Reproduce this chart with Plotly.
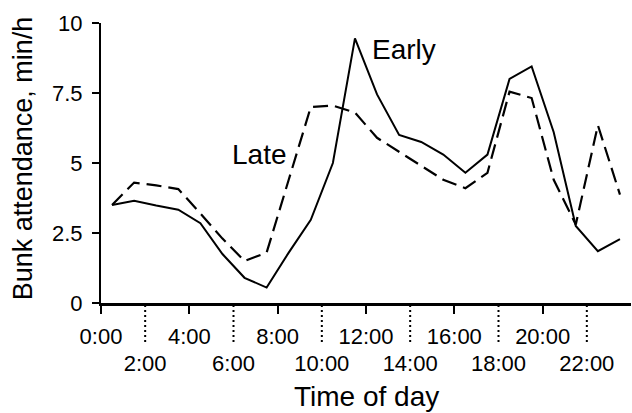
import plotly.graph_objects as go

# Data (time of day in hours, attendance in min/h)
hours = [0.5, 1.5, 2.5, 3.5, 4.5, 5.5, 6.5, 7.5, 8.5, 9.5, 10.5, 11.5,
         12.5, 13.5, 14.5, 15.5, 16.5, 17.5, 18.5, 19.5, 20.5, 21.5, 22.5, 23.5]
early = [3.5, 3.65, 3.48, 3.33, 2.85, 1.75, 0.9, 0.55, 1.8, 2.97, 5.0, 9.45,
         7.45, 6.0, 5.75, 5.3, 4.65, 5.3, 8.0, 8.45, 6.1, 2.75, 1.85, 2.28]
late = [3.5, 4.3, 4.2, 4.07, 3.2, 2.3, 1.5, 1.8, 4.4, 7.0, 7.05, 6.8,
        5.9, 5.4, 4.88, 4.4, 4.1, 4.65, 7.55, 7.32, 4.4, 2.8, 6.35, 3.87]

major_hours = [0, 4, 8, 12, 16, 20]
major_labels = ["0:00", "4:00", "8:00", "12:00", "16:00", "20:00"]
minor_hours = [2, 6, 10, 14, 18, 22]
minor_labels = ["2:00", "6:00", "10:00", "14:00", "18:00", "22:00"]

y_ticks = [0, 2.5, 5, 7.5, 10]
y_labels = ["0", "2.5", "5", "7.5", "10"]

FONT = "Liberation Sans, Arial, sans-serif"

fig = go.Figure()
fig.add_trace(go.Scatter(x=hours, y=early, mode="lines", name="Early",
                         line=dict(color="black", width=2), xaxis="x", yaxis="y"))
fig.add_trace(go.Scatter(x=hours, y=late, mode="lines", name="Late",
                         line=dict(color="black", width=2.2, dash="15px,7px"),
                         xaxis="x", yaxis="y"))
# invisible carrier so the second label row axis is drawn
fig.add_trace(go.Scatter(x=hours, y=early, mode="lines", line=dict(width=0),
                         opacity=0, hoverinfo="skip", showlegend=False,
                         xaxis="x2", yaxis="y"))

# dotted separators at minor hours, below the axis
for h in minor_hours:
    fig.add_shape(type="line", xref="x", yref="paper", x0=h, x1=h,
                  y0=-0.007, y1=-0.15,
                  line=dict(color="black", width=2, dash="2px,3px"))

fig.add_annotation(text="Early", x=12.2, y=9.05, xref="x", yref="y",
                   xanchor="left", yanchor="middle", showarrow=False,
                   font=dict(family=FONT, size=28, color="black"))
fig.add_annotation(text="Late", x=5.85, y=5.3, xref="x", yref="y",
                   xanchor="left", yanchor="middle", showarrow=False,
                   font=dict(family=FONT, size=28, color="black"))
fig.add_annotation(text="Time of day", x=0.5, y=-0.334, xref="paper", yref="paper",
                   xanchor="center", yanchor="middle", showarrow=False,
                   font=dict(family=FONT, size=28, color="black"))
fig.add_annotation(text="Bunk attendance, min/h", x=-0.148, y=0.515,
                   xref="paper", yref="paper", textangle=-90,
                   xanchor="center", yanchor="middle", showarrow=False,
                   font=dict(family=FONT, size=27, color="black"))

fig.update_layout(
    width=632, height=413,
    margin=dict(l=101, r=1, t=23, b=110),
    paper_bgcolor="white", plot_bgcolor="white",
    showlegend=False,
    font=dict(family=FONT, size=22, color="black"),
    xaxis=dict(range=[0, 24], tickvals=major_hours, ticktext=major_labels,
               ticks="outside", ticklen=8, tickwidth=2, tickcolor="black",
               showline=True, linewidth=2.5, linecolor="black",
               showgrid=False, zeroline=False, ticklabelstandoff=4,
               tickfont=dict(family=FONT, size=22, color="black")),
    xaxis2=dict(range=[0, 24], tickvals=minor_hours, ticktext=minor_labels,
                overlaying="x", anchor="y", side="bottom",
                ticks="", showline=False, showgrid=False, zeroline=False,
                ticklabelstandoff=45,
                tickfont=dict(family=FONT, size=22, color="black")),
    yaxis=dict(range=[0, 10], tickvals=y_ticks, ticktext=y_labels,
               ticks="outside", ticklen=7, tickwidth=2, tickcolor="black",
               showline=True, linewidth=2, linecolor="black",
               showgrid=False, zeroline=False, ticklabelstandoff=5,
               tickfont=dict(family=FONT, size=22, color="black")),
)

fig.write_html("out.html")
